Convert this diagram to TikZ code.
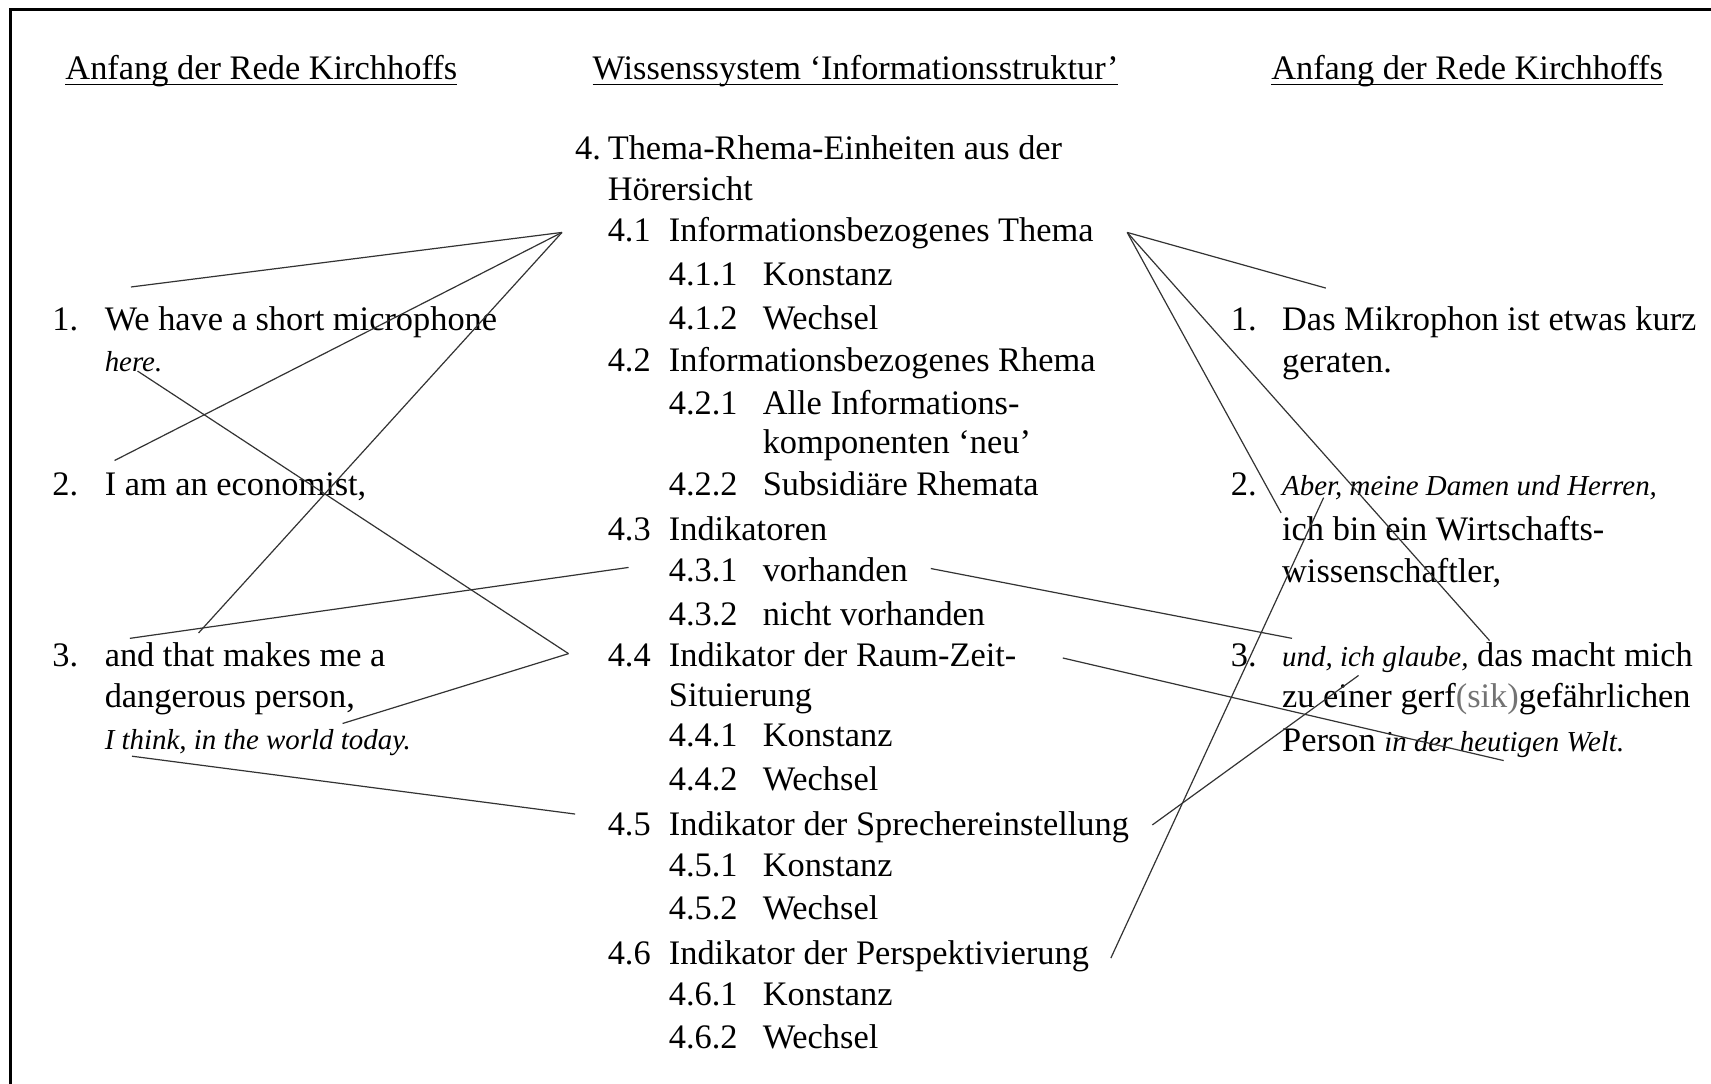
\documentclass[tikz,border=0pt]{standalone}
\usepackage{fontspec}
\setmainfont{Liberation Serif}
\newcommand{\itx}[1]{{\fontsize{26.5}{32}\selectfont\itshape #1}}
\begin{document}
\begin{tikzpicture}[x=1pt,y=-1pt,
  txt/.style={inner sep=0pt, outer sep=0pt, anchor=base west, yshift=-3.5pt, font=\fontsize{31.5}{38}\selectfont},
  conn/.style={draw=black!80, line width=1.1pt},
  frameline/.style={line width=2.6pt, line cap=rect},
  uline/.style={line width=1.3pt}]
\useasboundingbox (0,0) rectangle (1568,993);
\fill[white] (0,0) rectangle (1568,993);
\draw[frameline] (10,995) -- (10,9) -- (1570,9);

% titles
\node[txt] (tL) at (60,69) {Anfang der Rede Kirchhoffs};
\node[txt] (tM) at (543,69) {Wissenssystem ‘Informationsstruktur’};
\node[txt] (tR) at (1165,69) {Anfang der Rede Kirchhoffs};
\foreach \t in {tL,tM,tR}
  \draw[uline] ([yshift=-5pt]\t.base west) -- ([yshift=-5pt]\t.base east);

% left column
\node[txt] (l1n) at (48,299) {1.};
\node[txt] (l1a) at (96,299) {We have a short microphone};
\node[txt] (l1b) at (96,337) {\itx{here.}};
\node[txt] (l2n) at (48,451) {2.};
\node[txt] (l2a) at (96,451) {I am an economist,};
\node[txt] (l3n) at (48,607) {3.};
\node[txt] (l3a) at (96,607) {and that makes me a};
\node[txt] (l3b) at (96,645) {dangerous person,};
\node[txt] (l3c) at (96,683) {\itx{I think, in the world today.}};

% middle column
\node[txt] (m4n) at (527,143) {4.};
\node[txt] (m4a) at (557,143) {Thema-Rhema-Einheiten aus der};
\node[txt] (m4b) at (557,180) {Hörersicht};
\node[txt] (m41n) at (557,218) {4.1};
\node[txt] (m41) at (613,218) {Informationsbezogenes Thema};
\node[txt] (m411n) at (613,258) {4.1.1};
\node[txt] (m411) at (699,258) {Konstanz};
\node[txt] (m412n) at (613,298) {4.1.2};
\node[txt] (m412) at (699,298) {Wechsel};
\node[txt] (m42n) at (557,337) {4.2};
\node[txt] (m42) at (613,337) {Informationsbezogenes Rhema};
\node[txt] (m421n) at (613,376) {4.2.1};
\node[txt] (m421a) at (699,376) {Alle Informations-};
\node[txt] (m421b) at (699,412) {komponenten ‘neu’};
\node[txt] (m422n) at (613,451) {4.2.2};
\node[txt] (m422) at (699,451) {Subsidiäre Rhemata};
\node[txt] (m43n) at (557,492) {4.3};
\node[txt] (m43) at (613,492) {Indikatoren};
\node[txt] (m431n) at (613,529) {4.3.1};
\node[txt] (m431) at (699,529) {vorhanden};
\node[txt] (m432n) at (613,570) {4.3.2};
\node[txt] (m432) at (699,570) {nicht vorhanden};
\node[txt] (m44n) at (557,607) {4.4};
\node[txt] (m44a) at (613,607) {Indikator der Raum-Zeit-};
\node[txt] (m44b) at (613,644) {Situierung};
\node[txt] (m441n) at (613,681) {4.4.1};
\node[txt] (m441) at (699,681) {Konstanz};
\node[txt] (m442n) at (613,721) {4.4.2};
\node[txt] (m442) at (699,721) {Wechsel};
\node[txt] (m45n) at (557,762) {4.5};
\node[txt] (m45) at (613,762) {Indikator der Sprechereinstellung};
\node[txt] (m451n) at (613,800) {4.5.1};
\node[txt] (m451) at (699,800) {Konstanz};
\node[txt] (m452n) at (613,839) {4.5.2};
\node[txt] (m452) at (699,839) {Wechsel};
\node[txt] (m46n) at (557,880) {4.6};
\node[txt] (m46) at (613,880) {Indikator der Perspektivierung};
\node[txt] (m461n) at (613,918) {4.6.1};
\node[txt] (m461) at (699,918) {Konstanz};
\node[txt] (m462n) at (613,957) {4.6.2};
\node[txt] (m462) at (699,957) {Wechsel};

% right column
\node[txt] (r1n) at (1128,299) {1.};
\node[txt] (r1a) at (1175,299) {Das Mikrophon ist etwas kurz};
\node[txt] (r1b) at (1175,338) {geraten.};
\node[txt] (r2n) at (1128,451) {2.};
\node[txt] (r2a) at (1175,451) {\itx{Aber, meine Damen und Herren,}};
\node[txt] (r2b) at (1175,492) {ich bin ein Wirtschafts-};
\node[txt] (r2c) at (1175,530) {wissenschaftler,};
\node[txt] (r3n) at (1128,607) {3.};
\node[txt] (r3a) at (1175,607) {\itx{und, ich glaube,} das macht mich};
\node[txt] (r3b) at (1175,645) {zu einer gerf{\color{black!55}(sik)}gefährlichen};
\node[txt] (r3c) at (1175,685) {Person \itx{in der heutigen Welt.}};

% connector end points
\coordinate (cL41) at (515,213);
\coordinate (cL44) at (521,599);
\coordinate (cR41) at (1033,213);
\coordinate (a1) at (120,263);
\coordinate (a2) at (105,422);
\coordinate (a3) at (182,580);
\coordinate (a4) at (126,340);
\coordinate (a5) at (314,663);
\coordinate (a6) at (119,585);
\coordinate (a6e) at (576,520);
\coordinate (a7) at (121,693);
\coordinate (a7e) at (527,746);
\coordinate (b1) at (1215,264);
\coordinate (b2) at (1174,470);
\coordinate (b3) at (1365,587);
\coordinate (b4s) at (853,521);
\coordinate (b4) at (1184,585);
\coordinate (b5s) at (974,603);
\coordinate (b5) at (1378,697);
\coordinate (b6s) at (1056,756);
\coordinate (b6) at (1245,619);
\coordinate (b7s) at (1018,878);
\coordinate (b7) at (1213,456);

% connectors left
\draw[conn] (a1) -- (cL41);
\draw[conn] (a2) -- (cL41);
\draw[conn] (a3) -- (cL41);
\draw[conn] (a4) -- (cL44);
\draw[conn] (cL44) -- (a5);
\draw[conn] (a6) -- (a6e);
\draw[conn] (a7) -- (a7e);
% connectors right
\draw[conn] (cR41) -- (b1);
\draw[conn] (cR41) -- (b2);
\draw[conn] (cR41) -- (b3);
\draw[conn] (b4s) -- (b4);
\draw[conn] (b5s) -- (b5);
\draw[conn] (b6s) -- (b6);
\draw[conn] (b7s) -- (b7);
\end{tikzpicture}
\end{document}
